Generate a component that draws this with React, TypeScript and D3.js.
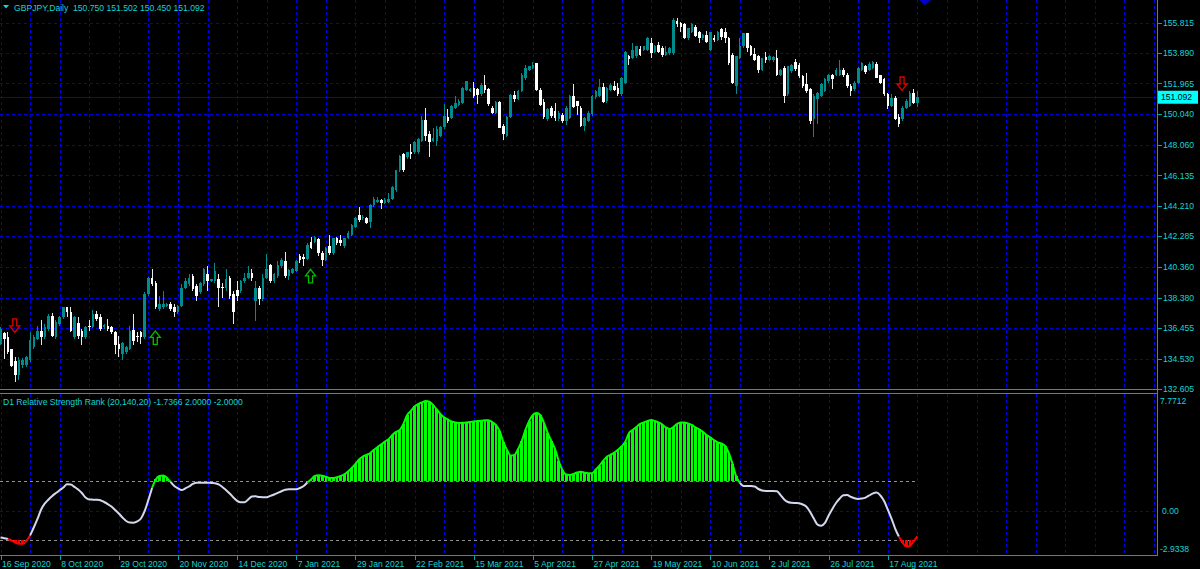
import React from 'react';
import * as d3 from 'd3';

// ---------- DATA ----------
const opens = [
135.47,136.14,135.89,135.12,134.36,133.48,134.10,134.11,134.43,135.26,
135.79,136.31,135.89,136.41,137.25,135.89,136.73,137.15,137.77,137.46,
135.89,136.78,136.31,135.89,136.62,136.52,137.36,137.15,136.52,136.58,
136.52,136.24,135.47,134.84,134.95,135.16,136.35,135.99,136.20,135.89,
138.61,139.66,139.34,137.67,137.77,137.88,137.98,137.82,137.46,137.88,
139.03,139.24,139.76,139.13,138.72,139.24,139.87,139.45,139.45,139.55,
139.07,139.03,139.66,138.61,138.86,138.82,139.45,139.66,139.97,138.19,
139.03,138.30,139.66,140.49,139.45,139.76,140.39,140.70,139.76,139.97,
140.08,141.01,141.00,140.85,141.95,141.95,142.10,141.22,140.80,141.64,
141.22,142.16,142.05,141.64,142.16,142.37,142.89,143.62,143.41,143.41,
143.21,144.25,144.46,144.61,144.36,144.46,144.67,145.19,146.45,147.49,
147.30,147.64,147.60,147.60,148.33,149.63,148.75,148.33,148.33,148.64,
149.21,149.84,149.80,150.42,150.63,150.74,151.57,151.51,151.68,151.64,
151.30,151.89,151.64,150.42,150.11,150.80,149.27,148.64,149.84,151.26,
151.00,151.47,152.31,152.83,152.93,153.25,151.57,150.78,149.69,150.42,
150.21,149.69,149.96,149.59,149.80,151.16,150.84,150.42,149.27,149.59,
150.00,151.09,151.16,151.72,150.84,151.57,151.78,151.68,151.28,152.01,
153.68,153.58,153.68,154.14,154.10,154.10,154.52,153.99,154.41,154.20,
153.79,153.89,153.89,155.94,155.815,155.73,154.83,155.25,155.56,155.25,
154.83,155.04,154.10,154.83,154.73,155.40,155.25,154.83,153.79,151.80,
153.58,154.31,155.15,154.31,153.85,153.68,152.84,153.64,153.47,153.43,
153.58,152.53,152.95,151.28,152.74,153.31,153.16,152.43,151.90,151.59,
149.71,150.96,151.17,151.49,152.11,152.51,152.53,152.53,152.84,152.53,
151.80,151.59,152.01,152.84,153.05,152.84,152.95,153.22,152.47,152.22,
151.28,150.54,151.07,149.87,149.71,150.44,150.54,151.36,150.75];

const highs = [
136.52,136.20,136.20,135.16,134.63,134.63,134.55,134.70,136.20,136.00,
136.62,136.98,136.73,137.36,137.40,136.95,137.25,137.82,137.82,137.77,
137.25,137.15,136.41,136.62,136.98,137.61,137.56,137.36,136.70,137.06,
136.62,136.31,135.99,135.60,135.35,136.62,137.36,136.20,136.31,138.72,
139.70,140.18,139.45,138.51,138.82,138.05,138.09,137.98,137.95,139.24,
139.66,139.87,139.87,139.24,139.40,140.28,140.39,139.60,140.60,139.87,
139.34,140.24,139.76,138.82,139.45,139.50,139.97,140.39,140.24,139.45,
139.13,139.87,141.16,140.54,139.95,140.70,140.90,141.27,140.20,140.25,
140.75,141.15,141.15,141.85,142.26,142.30,142.16,141.32,141.60,142.37,
142.20,142.26,142.37,142.20,142.60,143.05,143.50,144.15,143.60,143.52,
144.30,144.75,144.80,144.67,144.70,145.03,145.44,146.50,147.45,147.54,
147.65,148.12,148.30,148.54,149.90,150.42,148.96,149.17,149.27,149.30,
150.67,150.32,150.60,151.16,150.95,151.75,152.14,151.70,152.05,151.68,
151.97,152.52,151.68,150.53,150.85,150.84,149.38,149.90,151.30,151.50,
151.55,152.60,153.14,153.10,153.31,153.29,151.68,151.01,150.40,150.53,
150.72,150.20,150.11,150.53,151.26,151.93,150.88,150.53,149.85,150.20,
151.25,151.55,152.26,151.99,151.75,152.00,152.14,151.99,152.35,154.00,
153.79,154.52,154.35,154.31,154.35,154.90,154.83,154.40,154.62,154.31,
154.31,154.30,156.09,156.09,155.88,155.77,155.50,155.77,155.67,155.31,
155.10,155.31,155.25,155.04,155.30,155.46,155.46,154.94,153.89,153.70,
154.83,155.19,155.19,154.41,154.20,153.79,153.60,153.99,153.75,153.70,
154.10,152.90,153.05,153.10,153.20,153.51,153.26,152.53,152.64,151.69,
151.28,151.40,152.01,152.30,152.59,152.59,152.95,153.47,152.95,152.64,
151.90,152.10,153.00,153.33,153.16,153.30,153.37,153.31,152.53,152.32,
151.38,151.28,151.17,150.02,150.54,150.96,151.49,151.59,151.502];

const lows = [
135.37,134.53,134.84,134.01,133.02,133.17,133.95,134.00,134.32,135.15,
135.70,135.37,135.80,136.30,135.89,135.80,136.60,137.05,137.15,136.20,
135.79,135.76,135.37,135.80,136.27,136.45,136.94,136.31,136.40,136.31,
136.10,134.84,134.63,134.43,134.85,135.05,135.37,135.58,135.47,135.79,
138.50,139.13,137.67,137.56,137.70,137.80,137.56,137.15,137.35,137.80,
138.95,139.15,138.82,138.19,138.61,139.15,138.82,139.40,139.35,137.82,
138.40,138.82,138.30,136.73,138.19,138.70,139.35,139.55,139.45,136.94,
137.94,138.20,139.55,139.34,139.35,139.65,140.30,139.66,139.49,139.90,
140.00,140.60,140.40,140.80,141.50,141.85,141.01,140.38,140.70,141.11,
141.10,141.74,141.64,141.55,142.10,142.30,142.80,143.21,143.30,143.05,
142.79,144.15,144.40,144.04,144.30,144.40,144.60,145.10,146.35,146.34,
147.20,147.18,147.50,147.50,148.25,148.33,147.28,148.25,148.02,148.55,
149.10,149.48,149.70,150.35,150.55,150.65,151.50,151.45,151.05,150.67,
151.20,151.36,150.53,150.05,150.00,149.15,148.37,148.55,149.75,150.80,
150.90,151.40,152.20,152.75,152.85,151.51,150.53,149.69,149.60,149.75,
149.59,149.60,149.48,149.34,149.70,150.42,149.96,149.21,148.96,149.50,
149.90,151.00,151.10,150.72,150.75,151.50,151.51,151.16,151.20,151.90,
153.16,153.50,153.60,153.68,154.00,154.00,153.58,153.90,153.89,153.64,
153.70,153.80,153.80,155.56,155.25,154.77,154.75,155.15,154.90,154.52,
154.75,154.52,154.00,154.62,154.65,154.73,154.52,153.16,151.90,151.28,
153.50,154.20,153.99,153.68,153.37,152.64,152.75,153.26,153.40,153.35,
152.43,152.45,150.71,151.17,152.65,152.74,152.32,151.69,151.38,149.39,
148.56,149.39,151.10,151.40,152.00,151.59,152.45,152.45,152.38,151.69,
151.17,151.50,151.90,152.75,152.59,152.75,152.85,152.28,151.90,151.17,
150.33,150.45,149.66,149.18,149.60,150.33,150.45,150.65,150.45];

const closes = [
136.41,135.79,134.95,134.07,133.48,134.43,134.43,134.63,135.68,135.89,
136.31,135.89,136.52,137.25,135.99,136.83,137.15,137.77,137.46,136.31,
137.15,135.99,135.89,136.52,136.52,137.36,137.04,136.41,136.68,136.41,
136.20,135.37,135.16,135.53,135.26,136.31,135.64,135.89,135.89,138.61,
139.66,139.24,137.77,137.98,137.98,137.98,137.67,137.46,137.88,139.03,
139.45,139.66,138.92,138.51,139.34,140.18,139.45,139.55,140.08,139.03,
138.98,139.55,138.51,137.46,138.51,139.45,139.66,139.97,139.66,139.03,
138.30,139.66,140.18,139.45,139.87,140.49,140.81,139.76,140.12,140.18,
140.70,140.80,140.85,141.74,141.53,142.26,141.22,140.80,141.53,141.22,
142.16,141.85,141.85,142.16,142.51,143.00,143.41,143.31,143.52,143.10,
144.25,144.67,144.61,144.36,144.61,144.67,145.40,146.45,147.39,146.45,
147.60,147.49,148.23,148.44,149.63,148.64,148.23,148.54,149.06,149.21,
149.90,149.59,150.53,150.74,150.88,151.68,152.10,151.64,151.16,151.26,
151.89,151.57,150.67,150.11,150.80,149.17,148.75,149.84,151.26,150.95,
151.51,152.52,152.93,153.04,153.14,151.57,150.63,149.84,150.32,149.90,
149.75,150.11,149.59,150.42,151.16,150.46,150.53,149.27,149.80,150.11,
151.16,151.47,151.72,150.80,151.68,151.89,151.57,151.30,152.32,153.99,
153.51,154.10,154.31,153.79,154.31,154.83,153.89,154.31,153.99,153.79,
153.99,154.20,155.98,155.73,155.56,154.83,155.46,155.73,154.98,154.83,
155.04,154.62,155.21,154.73,155.25,154.90,154.83,153.26,152.01,153.68,
154.31,155.15,154.20,153.79,153.47,152.84,153.58,153.47,153.68,153.64,
152.53,152.84,151.17,153.05,153.16,152.89,152.43,151.80,151.49,149.60,
151.17,151.38,151.90,152.22,152.53,152.22,152.84,152.84,152.53,151.80,
151.49,152.01,152.95,153.26,152.68,153.22,153.31,152.32,152.01,151.28,
150.54,151.07,149.71,149.39,150.44,150.86,151.38,150.75,151.092];

// D1 Relative Strength Rank values
const rsr = [
-1.82,-1.86,-1.92,-2.02,-2.16,-2.24,-2.24,-2.05,-1.68,-1.14,
-0.56,0.08,0.49,0.76,1.00,1.20,1.39,1.57,1.79,1.78,
1.61,1.44,1.20,0.89,0.76,0.75,0.74,0.71,0.59,0.45,
0.28,0.05,-0.19,-0.46,-0.70,-0.80,-0.81,-0.73,-0.53,-0.02,
0.73,1.54,2.12,2.35,2.39,2.23,1.95,1.67,1.51,1.40,
1.51,1.64,1.81,1.90,1.90,1.90,1.90,1.88,1.86,1.78,
1.61,1.40,1.17,0.89,0.67,0.57,0.57,0.76,0.96,0.98,
0.92,0.91,0.91,1.00,1.10,1.21,1.32,1.42,1.45,1.45,
1.45,1.54,1.67,1.91,2.12,2.35,2.40,2.37,2.30,2.22,
2.22,2.26,2.35,2.47,2.66,2.89,3.17,3.48,3.67,3.78,
3.91,4.12,4.32,4.49,4.69,4.86,5.13,5.34,5.47,5.88,
6.49,6.76,7.06,7.23,7.34,7.44,7.38,7.17,6.86,6.56,
6.32,6.18,6.05,5.98,5.95,5.96,5.98,6.01,6.05,6.08,
6.09,6.12,6.13,6.01,5.81,5.40,4.66,4.12,3.74,3.78,
4.18,4.73,5.47,6.08,6.49,6.62,6.49,5.95,5.27,4.73,
4.18,3.37,2.76,2.45,2.42,2.49,2.59,2.64,2.57,2.54,
2.54,2.79,3.06,3.37,3.66,3.79,3.93,4.13,4.35,4.67,
5.27,5.47,5.67,5.88,5.98,6.08,6.15,6.08,5.98,5.84,
5.64,5.54,5.67,5.88,5.98,5.98,5.91,5.81,5.64,5.51,
5.34,5.13,4.96,4.79,4.62,4.56,4.39,3.91,3.17,2.32,
1.88,1.67,1.67,1.67,1.64,1.47,1.37,1.34,1.34,1.34,
1.32,1.06,0.76,0.59,0.54,0.52,0.50,0.42,0.27,-0.09,
-0.53,-0.94,-1.02,-0.83,-0.33,0.12,0.52,0.83,1.04,1.06,
0.94,0.84,0.79,0.82,0.89,1.03,1.17,1.23,1.03,0.66,
0.08,-0.53,-1.21,-1.75,-2.16,-2.43,-2.39,-2.08,-1.74];

const priceTicks = [155.815,153.890,151.965,150.040,148.060,146.135,144.210,142.285,140.360,138.380,136.455,134.530,132.605];
const dateLabels = ['16 Sep 2020','8 Oct 2020','29 Oct 2020','20 Nov 2020','14 Dec 2020','7 Jan 2021','29 Jan 2021','22 Feb 2021','15 Mar 2021','5 Apr 2021','27 Apr 2021','19 May 2021','10 Jun 2021','2 Jul 2021','26 Jul 2021','17 Aug 2021'];
const dateBars = [0,16,32,48,64,80,96,112,128,144,160,176,192,208,224,240];
const sellBars = [4,244];
const sellPrices = [136.60,151.93];
const buyBars = [42,84];
const buyPrices = [135.87,139.77];
const levels = [2,-2];
const bidPrice = 151.092;
const title = 'GBPJPY,Daily  150.750 151.502 150.450 151.092';
const indTitle = 'D1 Relative Strength Rank (20,140,20) -1.7366 2.0000 -2.0000';
const indMax = 7.7712;
const indMin = -2.9338;

// ---------- CHART ----------
export default function App() {
  const W = 1200, H = 569;
  const AX = 1157.5;
  const lastBar = closes.length - 1;
  const x = d3.scaleLinear().domain([0, 312]).range([0.5, 0.5 + 312 * 3.697]);
  const y = d3.scaleLinear().domain([132.605, 155.815]).range([389, 22.7]);
  const yi = d3.scaleLinear().domain([indMin, indMax]).range([554, 396]);
  const gridColor = '#0000dc';
  const axisColor = '#00a8a8';
  const textColor = '#14d4d4';
  const font = '"Liberation Sans", Arial, sans-serif';
  const fs = 8.6;
  const bull = '#008c8c';
  const bear = '#ffffff';
  const vGrid = d3.range(0, 313, 8);

  const segs: { cls: string; pts: [number, number][] }[] = [];
  for (let i = 0; i < rsr.length - 1; i++) {
    const a = rsr[i], b = rsr[i + 1];
    const cls = (a > 2 || b > 2) ? 'g' : (a < -2 || b < -2) ? 'r' : 'w';
    const last = segs[segs.length - 1];
    if (last && last.cls === cls) last.pts.push([i + 1, b]);
    else segs.push({ cls, pts: [[i, a], [i + 1, b]] });
  }
  const segLine = d3.line<[number, number]>().x(d => x(d[0])).y(d => yi(d[1])).curve(d3.curveMonotoneX);
  const segColor: Record<string, string> = { g: '#00ff00', r: '#ff0000', w: '#d4d8ee' };

  const arrowDown = (cx: number, cy: number) =>
    `M${cx - 2},${cy - 7}L${cx + 2},${cy - 7}L${cx + 2},${cy}L${cx + 5},${cy}L${cx},${cy + 6.5}L${cx - 5},${cy}L${cx - 2},${cy}Z`;
  const arrowUp = (cx: number, cy: number) =>
    `M${cx - 2},${cy + 7}L${cx + 2},${cy + 7}L${cx + 2},${cy}L${cx + 5},${cy}L${cx},${cy - 6.5}L${cx - 5},${cy}L${cx - 2},${cy}Z`;

  return (
    <svg width={W} height={H} style={{ position: 'absolute', left: 0, top: 0, background: '#000' }}
      fontFamily={font}>
      <rect x={0} y={0} width={W} height={H} fill="#000" />
      {/* grid */}
      <g shapeRendering="crispEdges" stroke={gridColor} strokeDasharray="3,3" strokeWidth={1}>
        {vGrid.map(b => (
          <line key={'vm' + b} x1={Math.round(x(b)) + 0.5} x2={Math.round(x(b)) + 0.5} y1={0} y2={389} />
        ))}
        {priceTicks.map(p => (
          <line key={'h' + p} x1={0} x2={AX} y1={Math.round(y(p)) + 0.5} y2={Math.round(y(p)) + 0.5} />
        ))}
        {vGrid.map(b => (
          <line key={'vi' + b} x1={Math.round(x(b)) + 0.5} x2={Math.round(x(b)) + 0.5} y1={394} y2={555} />
        ))}
        <line x1={0} x2={AX} y1={Math.round(yi(0)) + 0.5} y2={Math.round(yi(0)) + 0.5} />
      </g>

      {/* bid line */}
      <line x1={0} x2={AX} y1={Math.round(y(bidPrice)) + 0.5} y2={Math.round(y(bidPrice)) + 0.5}
        stroke="#0000e0" strokeWidth={1} shapeRendering="crispEdges" />

      {/* candles */}
      <g shapeRendering="crispEdges">
        {closes.map((c, i) => {
          const o = opens[i];
          const up = c >= o;
          const col = up ? bull : bear;
          const cx = x(i);
          const top = y(Math.max(o, c));
          const bot = y(Math.min(o, c));
          return (
            <g key={'c' + i}>
              <line x1={cx} x2={cx} y1={y(highs[i])} y2={y(lows[i])} stroke={up ? bull : '#e8e8e8'} strokeWidth={1} />
              <rect x={cx - 1.2} y={top} width={2.6} height={Math.max(1, bot - top)} fill={col} />
            </g>
          );
        })}
      </g>

      {/* signal arrows */}
      {sellBars.map((b, k) => (
        <path key={'s' + b} d={arrowDown(x(b) - 0.5, y(sellPrices[k]))} fill="none" stroke="#e00000" strokeWidth={1.3} />
      ))}
      {buyBars.map((b, k) => (
        <path key={'b' + b} d={arrowUp(x(b) - 0.5, y(buyPrices[k]))} fill="none" stroke="#00c000" strokeWidth={1.3} />
      ))}

      {/* chart shift marker */}
      <path d="M919,0L931,0L925,5Z" fill="#0000d0" />

      {/* title */}
      <path d="M3,5L9,5L6,8.5Z" fill={textColor} />
      <text x={14} y={10.5} fontSize={fs} fill={textColor} style={{ whiteSpace: 'pre' }}>{title}</text>

      {/* axes & separators */}
      <g stroke={axisColor} strokeWidth={1} shapeRendering="crispEdges">
        <line x1={0} x2={AX} y1={389.5} y2={389.5} />
        <line x1={0} x2={AX} y1={393.5} y2={393.5} />
        <line x1={0} x2={AX} y1={555.5} y2={555.5} />
        <line x1={AX} x2={AX} y1={0} y2={556} />
        {priceTicks.map(p => (
          <line key={'rt' + p} x1={AX} x2={AX + 4} y1={Math.round(y(p)) + 0.5} y2={Math.round(y(p)) + 0.5} />
        ))}
        {dateBars.map(b => (
          <line key={'bt' + b} x1={Math.round(x(b)) + 0.5} x2={Math.round(x(b)) + 0.5} y1={555} y2={560} />
        ))}
      </g>

      {/* price labels */}
      {priceTicks.map(p => (
        <text key={'pl' + p} x={1163} y={y(p) + 3.2} fontSize={fs} fill={textColor}>{p.toFixed(3)}</text>
      ))}
      <rect x={1158} y={y(bidPrice) - 6.5} width={40} height={13} fill="#00ffff" />
      <text x={1161} y={y(bidPrice) + 3.2} fontSize={fs} fill="#000">{bidPrice.toFixed(3)}</text>

      {/* date labels */}
      {dateLabels.map((d, k) => (
        <text key={'dl' + d} x={x(dateBars[k]) + 1.5} y={566.5} fontSize={fs} fill={textColor}>{d}</text>
      ))}

      {/* indicator panel */}
      <g>
        {levels.map(l => (
          <line key={'lv' + l} x1={0} x2={x(lastBar)} y1={Math.round(yi(l)) + 0.5} y2={Math.round(yi(l)) + 0.5}
            stroke="#909090" strokeDasharray="3,3" strokeWidth={1} shapeRendering="crispEdges" />
        ))}
        <g shapeRendering="crispEdges">
          {rsr.map((v, i) => {
            if (v > 2) return <rect key={'hg' + i} x={x(i) - 1.3} y={yi(v)} width={2.7} height={yi(2) - yi(v)} fill="#00ff00" />;
            if (v < -2) return <rect key={'hr' + i} x={x(i) - 1.3} y={yi(-2)} width={2.7} height={yi(v) - yi(-2)} fill="#ff0000" />;
            return null;
          })}
        </g>
        {segs.map((s, k) => (
          <path key={'sg' + k} d={segLine(s.pts) || ''} fill="none" stroke={segColor[s.cls]} strokeWidth={2} strokeLinejoin="round" />
        ))}
        <text x={3} y={405} fontSize={fs} fill={textColor}>{indTitle}</text>
        <text x={1160} y={yi(indMax) + 7.5} fontSize={fs} fill={textColor}>{indMax.toFixed(4)}</text>
        <text x={1162} y={yi(0) + 3.2} fontSize={fs} fill={textColor}>0.00</text>
        <text x={1160} y={yi(indMin) - 2.5} fontSize={fs} fill={textColor}>{indMin.toFixed(4)}</text>
      </g>
    </svg>
  );
}
